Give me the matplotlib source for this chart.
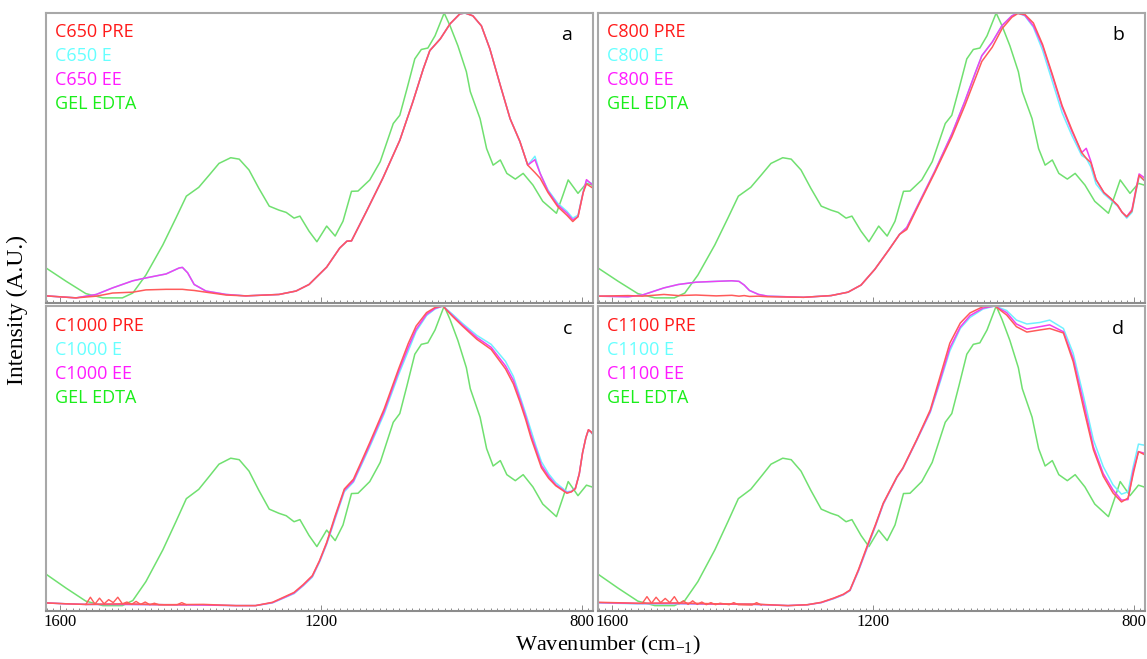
import matplotlib as mpl
mpl.use('Agg')
from matplotlib import pyplot as plt
from matplotlib.ticker import MultipleLocator, FixedLocator

# ---- data: normalised intensity ----
gel_wn = [1621, 1590, 1560, 1534, 1504, 1488, 1468, 1442, 1422, 1406, 1387, 1371, 1356, 1338, 1325,
          1310, 1295, 1279, 1264, 1253, 1241, 1232, 1218, 1206, 1191, 1178, 1166, 1153, 1143, 1125,
          1109, 1089, 1079, 1068, 1056, 1046, 1036, 1025, 1011, 1002, 990, 977, 971, 956, 946,
          936, 925, 915, 902, 890, 875, 860, 839, 829, 821, 806, 793, 783]
gel_y = [0.105, 0.058, 0.015, 0.0, 0.0, 0.017, 0.08, 0.186, 0.28, 0.357, 0.388, 0.431, 0.472, 0.492, 0.487,
         0.449, 0.385, 0.322, 0.308, 0.30, 0.28, 0.287, 0.234, 0.197, 0.252, 0.217, 0.269, 0.374, 0.375, 0.414,
         0.478, 0.612, 0.641, 0.734, 0.839, 0.872, 0.877, 0.92, 1.0, 0.955, 0.885, 0.794, 0.724, 0.629, 0.524,
         0.466, 0.484, 0.437, 0.417, 0.437, 0.396, 0.339, 0.297, 0.361, 0.414, 0.367, 0.402, 0.395]

# panel a
a_wn = [1621, 1575, 1544, 1519, 1488, 1468, 1437, 1417, 1412, 1404, 1394, 1376, 1345, 1315, 1264,
        1238, 1218, 1191, 1171, 1160, 1153, 1130, 1105, 1079, 1059, 1043, 1033, 1017, 1002, 987,
        979, 967, 954, 941, 925, 910, 895, 883, 872, 864, 852, 837, 823, 814, 806, 798, 793, 783]
a_e_y = [0.007, 0.0, 0.012, 0.035, 0.06, 0.07, 0.084, 0.105, 0.107, 0.088, 0.047, 0.024, 0.012, 0.007, 0.012,
         0.024, 0.047, 0.108, 0.175, 0.199, 0.20, 0.304, 0.42, 0.553, 0.688, 0.804, 0.868, 0.909, 0.962, 0.997,
         1.0, 0.99, 0.955, 0.874, 0.746, 0.629, 0.549, 0.466, 0.497, 0.437, 0.379, 0.332, 0.304, 0.28, 0.29,
         0.374, 0.41, 0.40]
a_ee_y = [0.007, 0.0, 0.012, 0.035, 0.06, 0.07, 0.084, 0.105, 0.107, 0.088, 0.047, 0.024, 0.012, 0.007, 0.012,
          0.024, 0.047, 0.108, 0.175, 0.199, 0.20, 0.304, 0.42, 0.553, 0.688, 0.804, 0.868, 0.909, 0.962, 0.997,
          1.0, 0.99, 0.955, 0.874, 0.746, 0.629, 0.549, 0.466, 0.485, 0.437, 0.375, 0.326, 0.298, 0.274, 0.285,
          0.37, 0.415, 0.395]
a_pre_y = [0.007, 0.0, 0.006, 0.017, 0.02, 0.028, 0.03, 0.03, 0.03, 0.028, 0.026, 0.02, 0.01, 0.007, 0.012,
           0.024, 0.047, 0.108, 0.175, 0.199, 0.20, 0.304, 0.42, 0.553, 0.688, 0.804, 0.868, 0.909, 0.962, 0.997,
           1.0, 0.99, 0.955, 0.874, 0.746, 0.629, 0.549, 0.466, 0.44, 0.42, 0.37, 0.32, 0.29, 0.268, 0.285,
           0.37, 0.40, 0.385]

# panel b
b_wn = [1621, 1575, 1553, 1520, 1498, 1471, 1440, 1416, 1405, 1397, 1389, 1375, 1361, 1306, 1264,
        1238, 1218, 1197, 1175, 1159, 1148, 1130, 1105, 1079, 1059, 1043, 1033, 1017, 1002, 987,
        978, 967, 954, 940, 925, 910, 895, 880, 873, 866, 858, 846, 836, 825, 818, 811, 803, 797, 792, 783]
b_e_y = [0.006, 0.004, 0.01, 0.035, 0.047, 0.055, 0.058, 0.06, 0.058, 0.045, 0.026, 0.012, 0.006, 0.002, 0.008,
         0.02, 0.045, 0.10, 0.17, 0.223, 0.247, 0.33, 0.445, 0.575, 0.69, 0.79, 0.85, 0.898, 0.956, 0.99,
         1.0, 0.99, 0.95, 0.87, 0.76, 0.65, 0.57, 0.50, 0.49, 0.46, 0.40, 0.365, 0.345, 0.322, 0.30,
         0.28, 0.30, 0.37, 0.427, 0.41]
b_ee_y = [0.006, 0.004, 0.01, 0.035, 0.047, 0.055, 0.058, 0.06, 0.058, 0.045, 0.026, 0.012, 0.006, 0.002, 0.008,
          0.02, 0.045, 0.10, 0.17, 0.223, 0.247, 0.33, 0.445, 0.575, 0.69, 0.79, 0.85, 0.898, 0.956, 0.99,
          1.0, 0.992, 0.955, 0.885, 0.78, 0.67, 0.585, 0.51, 0.525, 0.48, 0.415, 0.37, 0.35, 0.325, 0.30,
          0.285, 0.31, 0.38, 0.435, 0.42]
b_pre_y = [0.006, 0.008, 0.006, 0.012, 0.008, 0.01, 0.007, 0.009, 0.006, 0.008, 0.005, 0.006, 0.004, 0.002, 0.008,
           0.02, 0.045, 0.10, 0.17, 0.223, 0.24, 0.325, 0.44, 0.565, 0.675, 0.77, 0.83, 0.88, 0.945, 0.985,
           0.998, 0.995, 0.965, 0.89, 0.785, 0.675, 0.59, 0.51, 0.49, 0.475, 0.415, 0.37, 0.35, 0.325, 0.30,
           0.285, 0.305, 0.375, 0.43, 0.41]

# panel c
c_wn = [1621, 1590, 1560, 1500, 1440, 1380, 1330, 1300, 1274, 1255, 1241, 1227, 1213, 1202, 1191,
        1178, 1164, 1150, 1138, 1125, 1103, 1081, 1066, 1054, 1038, 1025, 1013, 998, 983, 961,
        939, 917, 905, 895, 886, 878, 870, 862, 851, 840, 823, 816, 810, 804, 799, 794, 790, 786, 783]
c_pre_y = [0.009, 0.006, 0.004, 0.006, 0.003, 0.004, 0.0, 0.0, 0.011, 0.03, 0.044, 0.07, 0.10, 0.15, 0.211,
           0.30, 0.389, 0.422, 0.48, 0.544, 0.656, 0.789, 0.875, 0.933, 0.978, 0.995, 1.0, 0.965, 0.933, 0.889,
           0.855, 0.79, 0.74, 0.68, 0.62, 0.56, 0.51, 0.46, 0.425, 0.40, 0.375, 0.38, 0.39, 0.44, 0.51,
           0.56, 0.587, 0.58, 0.572]
c_e_y = [0.009, 0.006, 0.004, 0.004, 0.003, 0.002, 0.0, 0.0, 0.009, 0.027, 0.04, 0.066, 0.095, 0.145, 0.205,
         0.29, 0.38, 0.412, 0.468, 0.53, 0.64, 0.77, 0.85, 0.915, 0.968, 0.99, 1.0, 0.972, 0.942, 0.902,
         0.872, 0.815, 0.765, 0.70, 0.64, 0.585, 0.53, 0.48, 0.44, 0.41, 0.38, 0.382, 0.392, 0.44, 0.51,
         0.56, 0.585, 0.578, 0.57]
c_ee_y = [0.009, 0.006, 0.004, 0.004, 0.003, 0.002, 0.0, 0.0, 0.010, 0.028, 0.042, 0.068, 0.098, 0.148, 0.208,
          0.295, 0.385, 0.416, 0.474, 0.537, 0.648, 0.78, 0.862, 0.922, 0.972, 0.992, 1.0, 0.968, 0.937, 0.895,
          0.862, 0.80, 0.752, 0.69, 0.63, 0.57, 0.52, 0.468, 0.432, 0.403, 0.377, 0.38, 0.392, 0.44, 0.51,
          0.56, 0.587, 0.58, 0.572]
c_noise_wn = [1560, 1553, 1546, 1539, 1532, 1525, 1518, 1511, 1504, 1497, 1490, 1483, 1476, 1469,
              1462, 1455, 1448, 1420, 1413, 1406]
c_noise_y = [0.004, 0.028, 0.005, 0.025, 0.006, 0.02, 0.01, 0.028, 0.006, 0.012, 0.004, 0.014,
             0.004, 0.012, 0.003, 0.008, 0.003, 0.003, 0.01, 0.003]

# panel d
d_wn = [1621, 1600, 1560, 1500, 1440, 1380, 1330, 1300, 1279, 1260, 1245, 1235, 1222, 1209, 1196,
        1184, 1163, 1154, 1133, 1112, 1097, 1082, 1066, 1051, 1031, 1013, 995, 980, 964, 944,
        929, 908, 893, 877, 862, 847, 832, 819, 809, 801, 793, 783]
d_pre_y = [0.011, 0.01, 0.008, 0.009, 0.006, 0.005, 0.0, 0.003, 0.011, 0.025, 0.038, 0.052, 0.12, 0.197, 0.27,
           0.342, 0.43, 0.459, 0.553, 0.653, 0.764, 0.876, 0.943, 0.977, 0.998, 1.0, 0.97, 0.931, 0.913, 0.92,
           0.925, 0.91, 0.814, 0.658, 0.52, 0.432, 0.376, 0.346, 0.359, 0.44, 0.514, 0.503]
d_e_y = [0.009, 0.008, 0.006, 0.006, 0.005, 0.004, 0.0, 0.003, 0.01, 0.023, 0.036, 0.05, 0.115, 0.19, 0.265,
         0.338, 0.428, 0.457, 0.55, 0.645, 0.745, 0.85, 0.925, 0.962, 0.99, 1.0, 0.985, 0.953, 0.94, 0.945,
         0.953, 0.925, 0.842, 0.697, 0.553, 0.464, 0.403, 0.372, 0.38, 0.464, 0.539, 0.535]
d_ee_y = [0.010, 0.009, 0.007, 0.007, 0.005, 0.004, 0.0, 0.003, 0.01, 0.024, 0.037, 0.051, 0.117, 0.193, 0.267,
          0.34, 0.429, 0.458, 0.551, 0.648, 0.752, 0.86, 0.93, 0.968, 0.993, 1.0, 0.978, 0.94, 0.923, 0.931,
          0.937, 0.914, 0.825, 0.676, 0.53, 0.441, 0.386, 0.352, 0.354, 0.45, 0.514, 0.508]
d_noise_wn = [1553, 1546, 1539, 1532, 1525, 1518, 1511, 1504, 1497, 1490, 1483, 1476, 1469, 1462,
              1455, 1448, 1441, 1434, 1420, 1413, 1406, 1385, 1378, 1371]
d_noise_y = [0.008, 0.03, 0.008, 0.028, 0.01, 0.024, 0.01, 0.03, 0.006, 0.016, 0.004, 0.016,
             0.004, 0.012, 0.003, 0.01, 0.003, 0.008, 0.003, 0.01, 0.003, 0.002, 0.01, 0.002]

panels = [
    ('a', ['C650 PRE', 'C650 E', 'C650 EE', 'GEL EDTA'], a_wn, a_pre_y, a_e_y, a_ee_y, None),
    ('b', ['C800 PRE', 'C800 E', 'C800 EE', 'GEL EDTA'], b_wn, b_pre_y, b_e_y, b_ee_y, None),
    ('c', ['C1000 PRE', 'C1000 E', 'C1000 EE', 'GEL EDTA'], c_wn, c_pre_y, c_e_y, c_ee_y,
     (c_noise_wn, c_noise_y)),
    ('d', ['C1100 PRE', 'C1100 E', 'C1100 EE', 'GEL EDTA'], d_wn, d_pre_y, d_e_y, d_ee_y,
     (d_noise_wn, d_noise_y)),
]

text_colors = ['#ff1a1a', '#66ffff', '#ff1aff', '#1aee1a']
line_colors = ['#ff5a5a', '#70f0ff', '#f040f0', '#70e070']

W, H = 1147, 659
fig = plt.figure(figsize=(W / 100, H / 100), dpi=100)

boxes = {'a': (46, 13, 593, 303), 'b': (598, 13, 1145, 303),
         'c': (46, 306, 593, 611), 'd': (598, 306, 1145, 611)}

for letter, labels, wn, pre_y, e_y, ee_y, noise in panels:
    x0, y0, x1, y1 = boxes[letter]
    ax = fig.add_axes([x0 / W, 1 - y1 / H, (x1 - x0) / W, (y1 - y0) / H])
    ax.plot(gel_wn, gel_y, color=line_colors[3], lw=1.1)
    ax.plot(wn, e_y, color=line_colors[1], lw=1.1)
    ax.plot(wn, ee_y, color=line_colors[2], lw=1.1)
    ax.plot(wn, pre_y, color=line_colors[0], lw=1.1)
    if noise is not None:
        ax.plot(noise[0], noise[1], color=line_colors[0], lw=1.0)
    ax.set_xlim(1621, 783)
    ax.set_ylim(-0.018, 1.0)
    ax.set_yticks([])
    ax.xaxis.set_minor_locator(MultipleLocator(10))
    ax.xaxis.set_major_locator(FixedLocator([1600, 1200, 800]))
    ax.tick_params(axis='x', which='both', direction='in', color='#777777', width=0.6)
    ax.tick_params(axis='x', which='major', length=4)
    ax.tick_params(axis='x', which='minor', length=2)
    if letter in ('a', 'b'):
        ax.set_xticklabels([])
    else:
        ax.tick_params(axis='x', which='major', labelsize=12, pad=2)
        for t in ax.get_xticklabels():
            t.set_fontfamily('Liberation Serif')
    for s in ax.spines.values():
        s.set_color('#a8a8a8')
        s.set_linewidth(1.5)
    ax.spines['bottom'].set_color('#8c8c8c')
    for i, lab in enumerate(labels):
        ax.text(0.016, 0.935 - i * 0.083 * (290 / (y1 - y0)), lab, transform=ax.transAxes,
                color=text_colors[i], fontsize=13, family='Open Sans', va='center', ha='left')
    ax.text(0.962, 0.925, letter, transform=ax.transAxes, fontsize=14, family='Open Sans',
            va='center', ha='right', color='black')

mpl.rcParams['mathtext.fontset'] = 'custom'
mpl.rcParams['mathtext.rm'] = 'Liberation Serif'
fig.text(608 / W, 1 - 645 / H, r'Wavenumber (cm$_{\mathrm{-1}}$)', family='Liberation Serif',
         fontsize=16, ha='center', va='center')
fig.text(17 / W, 1 - 310 / H, 'Intensity (A.U.)', family='Liberation Serif', fontsize=17,
         rotation=90, ha='center', va='center')

fig.savefig('out.png', dpi=100)
